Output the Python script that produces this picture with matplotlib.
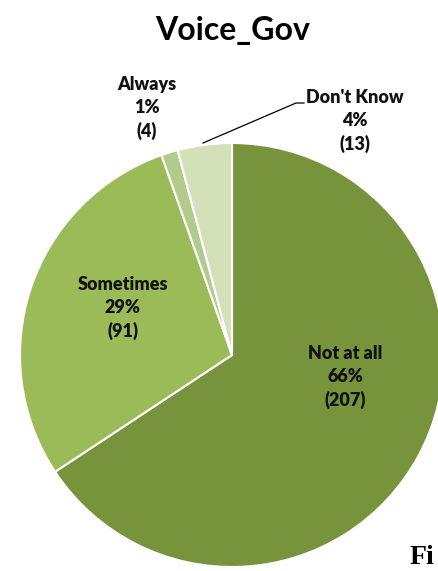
import matplotlib
matplotlib.use('Agg')
import matplotlib.pyplot as plt

# Data
categories = ['Not at all', 'Sometimes', 'Always', "Don't Know"]
counts = [207, 91, 4, 13]
percents = ['66%', '29%', '1%', '4%']
colors = ['#77933C', '#9BBB59', '#B3CB8A', '#D3E0B8']

W, H = 439, 571
fig = plt.figure(figsize=(W / 100, H / 100), dpi=100)
ax = fig.add_axes([0, 0, 1, 1])

cx, cy, r = 232, H - 355, 212
ax.pie(counts, colors=colors, startangle=90, counterclock=False,
       center=(cx, cy), radius=r, frame=True,
       wedgeprops=dict(edgecolor='white', linewidth=1.5))
ax.set_xlim(0, W)
ax.set_ylim(0, H)
ax.set_aspect('equal')
ax.axis('off')

font = ['Lato', 'DejaVu Sans']
# label anchor positions in image pixels (x, y from top)
label_pos = [(345, 377), (123, 308), (147, 108), (355, 121)]
for name, pct, n, (lx, ly) in zip(categories, percents, counts, label_pos):
    ax.text(lx, H - ly, f'{name}\n{pct}\n({n})', ha='center', va='center',
            fontsize=13, fontweight='heavy', family=font,
            linespacing=1.4, color='#111111')

# leader line for Don't Know
ax.plot([304, 296, 203], [H - 103, H - 103, H - 143], color='black',
        linewidth=0.9)

ax.text(233, H - 30, 'Voice_Gov', ha='center', va='center', fontsize=23,
        fontweight='bold', family=font)

ax.text(410, H - 557, 'Fi', ha='left', va='center', fontsize=20,
        fontweight='bold', family=['Liberation Serif', 'DejaVu Serif'])

fig.savefig('out.png', dpi=100)
